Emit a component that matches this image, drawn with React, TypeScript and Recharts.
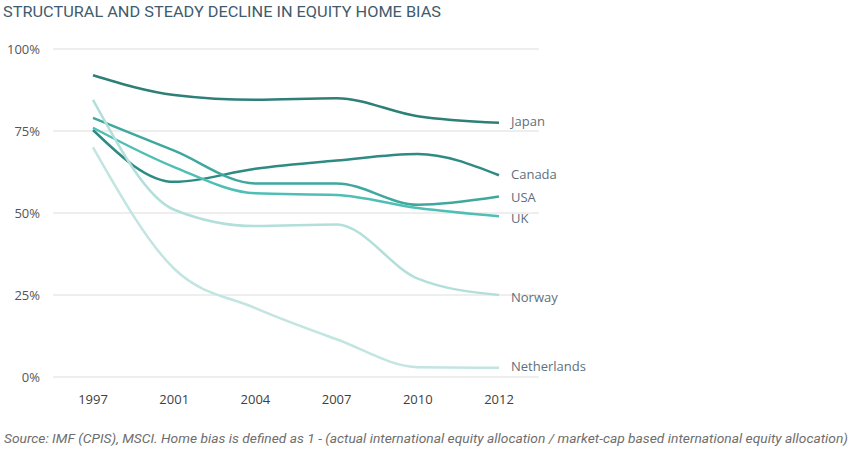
import React from 'react';
import { LineChart, Line, XAxis, YAxis, CartesianGrid } from 'recharts';

const years = ['1997', '2001', '2004', '2007', '2010', '2012'];
const japan = [92, 86, 84.5, 85, 79.5, 77.5];
const canada = [75.3, 59.5, 63.5, 66, 68, 61.5];
const usa = [79, 69, 59, 59, 52.5, 55];
const uk = [76, 64, 56, 55.5, 51.5, 49];
const norway = [84.5, 51, 46, 46.5, 30, 25];
const netherlands = [70, 33, 21, 11.5, 3, 2.8];
const yTicks = [0, 25, 50, 75, 100];

const series = [
  { key: 'Japan', values: japan, color: '#2d7f78', dy: 0 },
  { key: 'Canada', values: canada, color: '#2f8a83', dy: 0 },
  { key: 'USA', values: usa, color: '#3ea89f', dy: 2 },
  { key: 'UK', values: uk, color: '#4fbfb6', dy: 3 },
  { key: 'Norway', values: norway, color: '#b3dfda', dy: 4 },
  { key: 'Netherlands', values: netherlands, color: '#c2e5e1', dy: 0 },
];

const rows = years.map((year, i) => {
  const row: Record<string, string | number> = { year };
  series.forEach(s => { row[s.key] = s.values[i]; });
  return row;
});

const endLabel = (name: string, dy: number) => (props: any) => {
  const { x, y, index } = props;
  if (index !== years.length - 1) return null;
  return (
    <text x={x + 12} y={y + dy} dominantBaseline="middle" fill="#5d6f7e" fontSize={13} fontFamily="'Open Sans', sans-serif">
      {name}
    </text>
  );
};

export default function App() {
  return (
    <div style={{ position: 'absolute', left: 0, top: 0, width: 852, height: 454, background: '#fff' }}>
      <svg width={852} height={454} style={{ position: 'absolute', left: 0, top: 0 }}>
        <text x={3} y={17} fill="#3f5b6d" fontSize={15} fontFamily="Roboto, sans-serif" textLength={438} lengthAdjust="spacingAndGlyphs">
          STRUCTURAL AND STEADY DECLINE IN EQUITY HOME BIAS
        </text>
        <text x={4} y={443} fill="#6e6e6e" fontSize={12.5} fontStyle="italic" fontFamily="Roboto, sans-serif" textLength={844} lengthAdjust="spacingAndGlyphs">
          Source: IMF (CPIS), MSCI. Home bias is defined as 1 - (actual international equity allocation / market-cap based international equity allocation)
        </text>
      </svg>
      <div style={{ position: 'absolute', left: 0, top: 0 }}>
        <LineChart width={852} height={454} data={rows} margin={{ top: 49, right: 313, bottom: 47, left: 0 }}>
          <CartesianGrid vertical={false} stroke="#e9e9e9" strokeWidth={1.5} />
          <XAxis
            dataKey="year"
            axisLine={false}
            tickLine={false}
            padding={{ left: 40, right: 40 }}
            tick={{ fill: '#404040', fontSize: 13, fontFamily: "'Open Sans', sans-serif" }}
            tickMargin={12}
          />
          <YAxis
            width={53}
            domain={[0, 100]}
            ticks={yTicks}
            axisLine={false}
            tickLine={false}
            tickFormatter={v => `${v}%`}
            tick={{ fill: '#555', fontSize: 13, fontFamily: "'Open Sans', sans-serif" }}
            tickMargin={7}
          />
          {series.map(s => (
            <Line
              key={s.key}
              type="monotone"
              dataKey={s.key}
              stroke={s.color}
              strokeWidth={2.5}
              dot={false}
              isAnimationActive={false}
              label={endLabel(s.key, s.dy)}
            />
          ))}
        </LineChart>
      </div>
    </div>
  );
}
